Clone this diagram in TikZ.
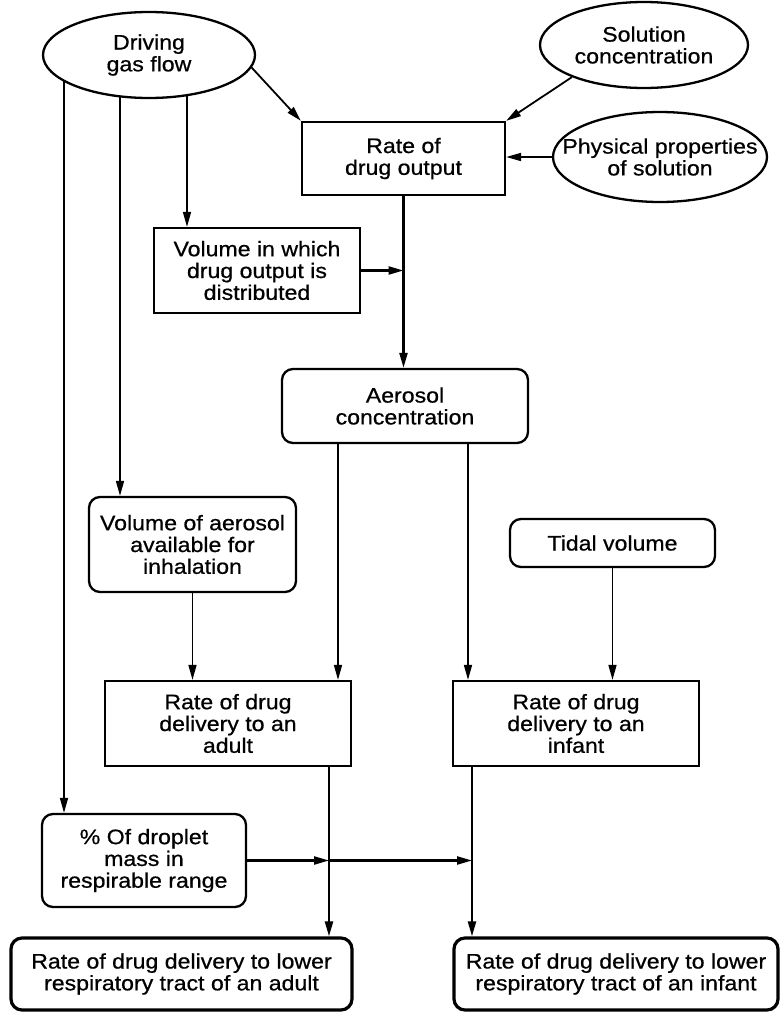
\documentclass[tikz,border=0pt]{standalone}
\usepackage{fontspec}
\setmainfont{Liberation Sans}[FakeStretch=1.1,FakeBold=0.7]
\usetikzlibrary{arrows.meta,shapes.geometric}
\pgfdeclarelayer{bg}
\pgfsetlayers{bg,main}
\begin{document}
\begin{tikzpicture}[x=1pt,y=-1pt,
  txt/.style={font=\fontsize{21}{21.8}\selectfont, align=center, inner sep=0pt},
  box/.style={txt, draw, line width=2.3pt, fill=white},
  rbox/.style={box, rounded corners=11pt},
  fbox/.style={rbox, line width=3.2pt},
  oval/.style={ellipse, draw, line width=2.3pt, fill=white, inner sep=0pt},
  arr/.style={-{Triangle[length=15pt,width=8pt]}, line width=1.8pt},
  thin/.style={line width=1.6pt},
  thick/.style={line width=2.3pt}]
\useasboundingbox (0,0) rectangle (781,1012);

% ovals
\node[oval, minimum width=212pt, minimum height=86pt] (drive) at (149,55) {};
\node[txt] (drivet) at (drive.center) {Driving\\gas flow};
\node[oval, minimum width=208pt, minimum height=86pt] (sol) at (644,45) {};
\node[txt] (solt) at (sol.center) {Solution\\concentration};
\node[oval, minimum width=214pt, minimum height=90pt] (phys) at (660,157) {};
\node[txt] (physt) at (phys.center) {Physical properties\\of solution};

% boxes
\node[box, minimum width=203pt, minimum height=73pt] (rdo) at (403.5,158.5) {Rate of\\drug output};
\node[box, minimum width=206pt, minimum height=85pt] (vol) at (257,270.5) {Volume in which\\drug output is\\distributed};
\node[rbox, minimum width=246pt, minimum height=74pt] (aer) at (405,406) {Aerosol\\concentration};
\node[rbox, minimum width=207pt, minimum height=95pt] (voa) at (192.5,544.5) {Volume of aerosol\\available for\\inhalation};
\node[rbox, minimum width=205pt, minimum height=48pt] (tid) at (612.5,543) {Tidal volume};
\node[box, minimum width=246pt, minimum height=85pt] (rda) at (228,723.5) {Rate of drug\\delivery to an\\adult};
\node[box, minimum width=246pt, minimum height=85pt] (rdi) at (576,723.5) {Rate of drug\\delivery to an\\infant};
\node[rbox, minimum width=204pt, minimum height=93pt] (pct) at (144,860.5) {\% Of droplet\\mass in\\respirable range};
\node[fbox, minimum width=341pt, minimum height=72pt] (lra) at (181.5,974) {Rate of drug delivery to lower\\respiratory tract of an adult};
\node[fbox, minimum width=324pt, minimum height=72pt] (lri) at (616,974) {Rate of drug delivery to lower\\respiratory tract of an infant};

% x positions of vertical lines
\coordinate (xa) at (64,0);
\coordinate (xb) at (120,0);
\coordinate (xc) at (187,0);
\coordinate (xd) at (338,0);
\coordinate (xe) at (468,0);
\coordinate (xf) at (329,0);
\coordinate (xg) at (472,0);

\begin{pgfonlayer}{bg}
\draw[arr,thin] (drive.center -| xa) -- (xa |- pct.north);
\draw[arr,thin] (drive.center -| xb) -- (xb |- voa.north);
\draw[arr,thin] (drive.center -| xc) -- (xc |- vol.north);
\draw[arr,thin] (aer.center -| xd) -- (xd |- rda.north);
\draw[arr,thin] (aer.center -| xe) -- (xe |- rdi.north);
\draw[arr,thick] (rda.center -| xf) -- (xf |- lra.north);
\draw[arr,thick] (rdi.center -| xg) -- (xg |- lri.north);
\end{pgfonlayer}

\draw[arr] (drive.-7) -- (rdo.north west);
\draw[arr] (sol.204) -- (rdo.north east);
\draw[arr] (phys.west) -- (phys.west -| rdo.east);
\draw[arr,thick] (rdo.south) -- (rdo.south |- aer.north);
\draw[arr,thick] (vol.east) -- (vol.east -| rdo.south);
\draw[arr,thin] (voa.south) -- (voa.south |- rda.north);
\draw[arr,thin] (tid.south) -- (tid.south |- rdi.north);
\draw[arr,thick] (pct.east) -- (pct.east -| xf);
\draw[arr,thick] (pct.east -| xf) -- (pct.east -| xg);
\end{tikzpicture}
\end{document}
